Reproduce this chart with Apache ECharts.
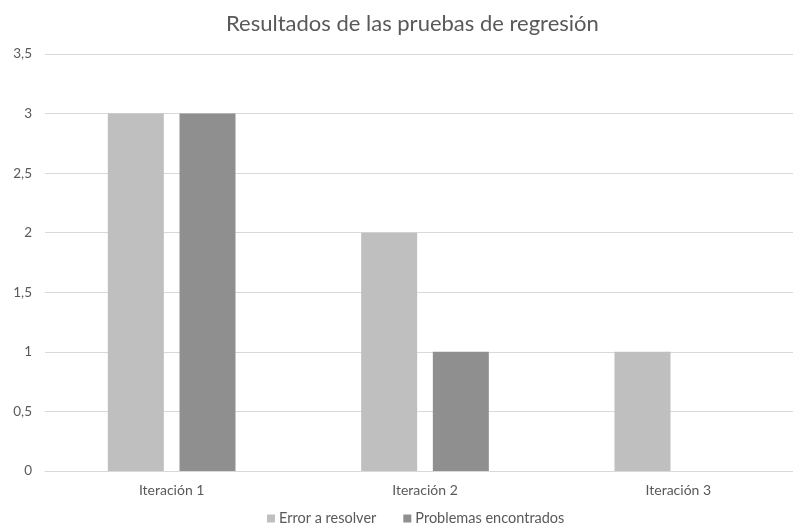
<!DOCTYPE html>
<html>
<head>
<meta charset="utf-8">
<script src="https://cdn.jsdelivr.net/npm/echarts@6/dist/echarts.min.js"></script>
<style>
    html, body { margin: 0; padding: 0; background: #fff; overflow: hidden; }
    #barCharts { width: 805px; height: 528px; }
</style>
</head>
<body>
<div id="barCharts"></div>
<script>
// datos del gráfico
var categorias = ['Iteración 1', 'Iteración 2', 'Iteración 3'];
var errorAResolver = [3, 2, 1];
var problemasEncontrados = [3, 1, 0];
var ticksY = [0, 0.5, 1, 1.5, 2, 2.5, 3, 3.5];

// el área del gráfico original sobresale un poco por la derecha
var myChart = echarts.init(document.getElementById('barCharts'));
var option = {
    animation: false,
    title: {
        text: 'Resultados de las pruebas de regresión',
        left: 221,
        top: 8,
        textStyle: {
            fontFamily: 'Lato',
            fontSize: 22,
            fontWeight: 'normal',
            color: '#595959'
        }
    },
    legend: {
        data: ['Error a resolver', 'Problemas encontrados'],
        top: 511,
        left: 267,
        padding: 0,
        icon: 'rect',
        itemWidth: 8,
        itemHeight: 8,
        itemGap: 27,
        textStyle: {
            fontFamily: 'Lato',
            fontSize: 14.5,
            color: '#595959',
            padding: [0, 0, 0, -1]
        }
    },
    grid: {
        left: 45,
        right: 0,
        top: 54,
        bottom: 57,
        containLabel: false
    },
    xAxis: [{
        type: 'category',
        data: categorias,
        axisLine: { lineStyle: { color: '#D9D9D9' } },
        axisTick: { show: false },
        axisLabel: {
            margin: 12,
            fontFamily: 'Lato',
            fontSize: 14,
            color: '#595959'
        }
    }],
    yAxis: {
        type: 'value',
        min: ticksY[0],
        max: ticksY[ticksY.length - 1],
        interval: 0.5,
        axisLine: { show: false },
        axisTick: { show: false },
        splitLine: { lineStyle: { color: '#D9D9D9' } },
        axisLabel: {
            margin: 13,
            fontFamily: 'Lato',
            fontSize: 13.5,
            color: '#595959',
            formatter: function (v) {
                return String(v).replace('.', ',');
            }
        }
    },
    series: [
        {
            name: 'Error a resolver',
            type: 'bar',
            data: errorAResolver,
            barWidth: 56,
            barGap: '28%',
            itemStyle: { color: '#BFBFBF' }
        },
        {
            name: 'Problemas encontrados',
            type: 'bar',
            data: problemasEncontrados,
            barWidth: 56,
            barGap: '28%',
            itemStyle: { color: '#8F8F8F' }
        }
    ]
};
myChart.setOption(option);
</script>
</body>
</html>
